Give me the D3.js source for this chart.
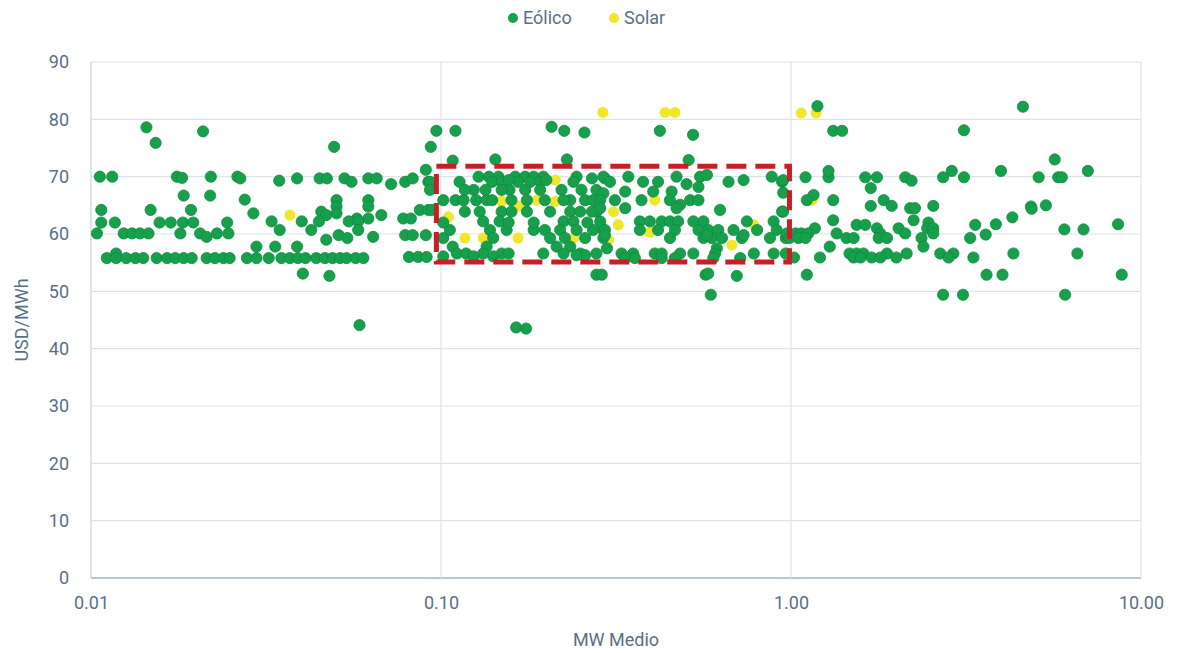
<!DOCTYPE html>
<html>
<head>
<meta charset="utf-8">
<title>Eólico / Solar</title>
<style>
  body { margin: 0; background: #fff; }
  text { font-family: "Liberation Sans Narrow", "Roboto", "DejaVu Sans Condensed", sans-serif; fill: #587087; }
</style>
</head>
<body>
<svg id="chart" width="1179" height="653"></svg>
<script src="https://cdn.jsdelivr.net/npm/d3@7"></script>
<script>
// [MW medio, USD/MWh]
var eolico = [
  [0.0144,78.6],[0.0153,75.9],[0.0209,77.9],
  [0.0106,70.0],[0.0115,70.0],[0.0176,70.0],[0.0182,69.8],[0.022,70.0],[0.0262,70.0],
  [0.0184,66.7],[0.0219,66.7],[0.0275,66.0],
  [0.0107,64.2],[0.0148,64.2],[0.0193,64.2],[0.0291,63.6],
  [0.0107,62.0],[0.0117,62.0],[0.0157,62.0],[0.0169,62.0],[0.0183,62.0],[0.0196,62.0],[0.0245,62.0],
  [0.0104,60.1],[0.0124,60.1],[0.0131,60.1],[0.0138,60.1],[0.0146,60.1],[0.018,60.1],[0.0205,60.1],[0.0214,59.5],[0.0229,60.1],[0.0247,60.1],
  [0.0297,57.8],
  [0.0111,55.8],[0.0118,56.6],[0.0118,55.8],[0.0126,55.8],[0.0134,55.8],[0.0141,55.8],[0.0154,55.8],[0.0165,55.8],[0.0174,55.8],[0.0184,55.8],
  [0.0194,55.8],[0.0214,55.8],[0.0226,55.8],[0.0239,55.8],[0.0249,55.8],[0.0279,55.8],[0.0297,55.8],
  [0.0495,75.2],[0.097,78.0],[0.0935,75.2],
  [0.0267,69.7],[0.0345,69.3],[0.0388,69.7],[0.045,69.7],[0.0472,69.7],[0.053,69.7],[0.0555,69.1],[0.062,69.7],[0.0655,69.7],
  [0.072,68.7],[0.079,69.1],[0.083,69.7],[0.0905,71.2],[0.092,69.1],
  [0.0503,65.9],[0.062,65.9],[0.0503,64.8],[0.062,64.8],[0.0455,63.9],[0.0503,63.6],
  [0.0675,63.3],[0.047,63.3],
  [0.0575,62.7],[0.062,62.7],[0.078,62.7],[0.082,62.7],[0.087,64.2],[0.092,64.2],
  [0.0328,62.2],[0.040,62.2],[0.0448,62.2],[0.0545,62.2],[0.058,62.2],
  [0.0346,60.7],[0.0426,60.7],[0.058,60.7],
  [0.051,59.8],[0.064,59.5],[0.079,59.8],[0.083,59.8],[0.0905,59.8],
  [0.054,59.3],[0.047,59.0],
  [0.0336,57.8],[0.0388,57.8],
  [0.0322,55.8],[0.035,55.8],[0.037,55.8],[0.039,55.8],[0.041,55.8],[0.044,55.8],[0.0466,55.8],[0.049,55.8],[0.0515,55.8],
  [0.0537,55.8],[0.057,55.8],[0.060,55.8],
  [0.0403,53.1],[0.048,52.7],[0.0585,44.1],
  [0.081,56.0],[0.086,56.0],[0.091,56.0],
  [0.110,78.0],[0.207,78.7],[0.225,78.0],[0.257,77.7],
  [0.108,72.8],[0.143,73.0],[0.229,73.0],
  [0.270,69.7],[0.294,69.7],[0.093,69.1],[0.094,64.2],
  [0.278,52.9],[0.288,52.9],[0.164,43.7],[0.175,43.5],
  [0.128,70],[0.137,70],[0.146,70],[0.163,70],[0.174,70],[0.184,70],[0.196,70],[0.244,70],[0.291,70],
  [0.113,69.1],[0.140,69.1],[0.149,69.1],[0.166,69.1],[0.180,69.1],[0.192,69.1],[0.239,69.1],
  [0.124,67.7],[0.134,67.7],[0.157,67.7],[0.174,67.7],[0.221,67.7],[0.252,67.7],[0.278,67.7],[0.093,67.7],
  [0.1015,65.9],[0.110,65.9],[0.116,65.9],[0.126,65.9],[0.135,65.9],[0.159,65.9],[0.176,65.9],[0.198,65.9],[0.234,65.9],[0.258,65.9],[0.291,67.1],
  [0.117,63.9],[0.129,63.9],[0.149,63.9],[0.159,63.9],[0.234,63.9],[0.250,63.9],[0.278,63.9],
  [0.132,62.2],[0.147,62.2],[0.224,62.2],[0.239,62.2],
  [0.106,60.7],[0.138,60.7],[0.154,60.7],[0.184,60.7],[0.198,60.7],[0.219,60.7],[0.244,60.7],[0.272,60.7],[0.291,60.7],
  [0.1015,59.3],[0.141,59.3],[0.205,59.3],[0.226,59.3],[0.258,59.3],[0.291,59.3],
  [0.108,57.8],[0.135,57.8],[0.214,57.8],[0.234,57.8],
  [0.111,56.6],[0.118,56.6],[0.132,56.6],[0.149,56.6],[0.156,56.6],[0.196,56.6],[0.224,56.6],[0.250,56.6],[0.278,56.6],
  [0.1015,56.1],[0.124,56.1],[0.141,56.1],
  [0.1015,62.0],[0.156,62.0],[0.184,62.0],[0.262,62.0],
  [0.176,63.9],[0.205,63.9],[0.270,63.9],
  [0.140,65.9],[0.224,65.9],[0.272,65.9],
  [0.117,67.7],[0.192,67.7],[0.149,67.7],
  [0.200,69.4],[0.156,69.4],
  [0.258,56.3],[0.244,56.3],
  [0.51,72.9],
  [0.343,70],[0.471,70],[0.550,70],[0.575,70.3],[0.881,70],[0.943,69.1],
  [0.304,69.1],[0.378,69.1],[0.417,69.1],[0.503,68.7],[0.663,69.1],[0.732,69.4],
  [0.336,67.4],[0.404,67.4],[0.456,67.4],[0.544,68.2],
  [0.285,65.9],[0.314,65.9],[0.374,65.9],[0.451,65.9],[0.482,65.1],[0.515,65.9],[0.544,65.9],[0.943,63.9],
  [0.285,64.5],[0.336,64.5],[0.471,64.5],[0.627,64.2],
  [0.285,62.2],[0.370,62.2],[0.395,62.2],[0.427,62.2],[0.451,62.2],[0.476,62.2],[0.526,62.2],[0.562,62.2],[0.748,62.2],[0.892,62.2],
  [0.294,60.7],[0.370,60.7],[0.417,60.7],[0.466,60.7],[0.544,60.7],[0.581,60.7],[0.620,60.7],[0.685,60.7],[0.800,60.7],[0.910,60.7],
  [0.451,59.3],[0.562,59.3],[0.594,59.3],[0.635,59.3],[0.724,59.3],[0.871,59.3],[0.966,59.3],
  [0.298,57.5],[0.614,57.5],
  [0.328,56.6],[0.354,56.6],[0.408,56.6],[0.427,56.6],[0.482,56.6],[0.526,56.6],[0.607,56.6],[0.783,56.6],[0.892,56.6],[0.966,56.6],
  [0.336,55.8],[0.358,55.8],[0.427,55.8],[0.466,55.8],[0.600,55.8],[0.716,55.8],
  [0.575,59.8],[0.732,59.8],[0.973,59.8],[0.294,59.8],
  [0.422,78.0],[0.525,77.3],[0.57,52.9],[0.58,53.1],[0.70,52.7],[0.59,49.4],
  [1.19,82.3],[1.32,78.0],[1.40,78.0],[3.12,78.1],
  [1.10,69.9],[1.28,69.9],[1.63,69.9],[1.76,69.9],[2.12,69.9],[2.72,69.9],[3.12,69.9],
  [1.28,71.0],[2.21,69.3],[2.88,71.0],[0.95,69.4],
  [1.69,68.0],[1.16,66.8],[1.11,65.9],[1.32,65.9],[1.84,65.9],
  [1.69,64.9],[1.94,64.9],[2.55,64.9],[2.19,64.5],[2.26,64.5],
  [0.95,67.2],[0.95,63.9],
  [1.32,62.4],[2.24,62.4],[2.47,62.0],
  [1.54,61.6],[1.63,61.6],[3.36,61.6],
  [1.17,61.0],[2.03,61.0],[1.76,61.0],[2.45,61.0],[2.55,61.0],
  [0.973,60.1],[1.03,60.1],[1.07,60.1],[1.12,60.1],[1.35,60.1],[1.80,60.1],[2.12,60.1],[2.55,60.1],
  [0.99,59.3],[1.05,59.3],[1.10,59.3],[1.44,59.3],[1.51,59.3],[1.78,59.3],[1.88,59.3],[2.36,59.3],[3.25,59.3],
  [1.29,57.8],[2.39,57.8],
  [1.47,56.6],[1.54,56.6],[1.61,56.6],[1.88,56.6],[2.14,56.6],[2.67,56.6],[2.91,56.6],
  [1.02,55.9],[1.21,55.9],[1.51,55.9],[1.58,55.9],[1.70,55.9],[1.80,55.9],[2.0,55.9],[2.82,55.9],[3.32,55.9],
  [1.11,52.9],[2.72,49.4],[3.10,49.4],
  [4.6,82.2],[5.67,73.0],[3.98,71.0],[7.05,71.0],[5.1,69.9],[5.8,69.9],[5.94,69.9],
  [4.85,64.8],[5.35,65.0],[4.87,64.4],[4.29,62.9],[3.85,61.7],[8.6,61.7],[6.04,60.8],[6.85,60.8],
  [3.6,59.9],[4.32,56.6],[6.58,56.6],[3.62,52.9],[4.02,52.9],[8.81,52.9],[6.07,49.4]
];

var solar = [
  [0.037,63.3],[0.29,81.2],[0.437,81.2],[0.466,81.2],[1.07,81.1],[1.18,81.1],[1.15,65.9],
  [0.212,69.4],[0.149,65.7],[0.188,65.9],[0.212,65.7],[0.168,64.9],[0.105,63.0],
  [0.117,59.3],[0.132,59.3],[0.166,59.3],[0.239,59.3],
  [0.408,65.9],[0.311,63.9],[0.321,61.6],[0.301,59.0],[0.395,60.3],[0.783,61.6],[0.678,58.1]
];

var xTicks = [0.01, 0.1, 1, 10];
var yTicks = [0, 10, 20, 30, 40, 50, 60, 70, 80, 90];
var seriesNames = ["Eólico", "Solar"];
var seriesColors = ["#17a04c", "#f0e62a"];
// highlighted zone (dashed box): MW range, USD range
var zoneMW = [0.097, 0.99];
var zoneUSD = [55.1, 71.8];

var svg = d3.select("#chart");
var x = d3.scaleLog().domain([0.01, 10]).range([91, 1141]);
var y = d3.scaleLinear().domain([0, 90]).range([578, 62]);

// grid
svg.append("g")
  .selectAll("line")
  .data(yTicks)
  .enter().append("line")
  .attr("x1", x(0.01)).attr("x2", x(10))
  .attr("y1", function(d) { return y(d); })
  .attr("y2", function(d) { return y(d); })
  .attr("stroke", function(d) { return d === 0 ? "#b9c6d2" : "#dde3ea"; })
  .attr("stroke-width", function(d) { return d === 0 ? 2 : 1.2; });

svg.append("g")
  .selectAll("line")
  .data(xTicks)
  .enter().append("line")
  .attr("x1", function(d) { return x(d); })
  .attr("x2", function(d) { return x(d); })
  .attr("y1", y(90)).attr("y2", y(0))
  .attr("stroke", function(d) { return d === 0.01 ? "#c6d3df" : "#dde3ea"; })
  .attr("stroke-width", 1.2);

// axes (labels only)
var xAxis = d3.axisBottom(x).tickValues(xTicks).tickFormat(d3.format(".2f")).tickSize(0).tickPadding(18);
svg.append("g")
  .attr("transform", "translate(0," + y(0) + ")")
  .call(xAxis)
  .call(function(g) { g.select(".domain").remove(); })
  .selectAll("text")
  .style("font-size", "18px");

var yAxis = d3.axisLeft(y).tickValues(yTicks).tickSize(0).tickPadding(22);
svg.append("g")
  .attr("transform", "translate(" + x(0.01) + ",0)")
  .call(yAxis)
  .call(function(g) { g.select(".domain").remove(); })
  .selectAll("text")
  .style("font-size", "18px");

svg.selectAll(".tick text").attr("fill", "#587087").style("font-family", "'Liberation Sans Narrow', Roboto, sans-serif");

// axis titles
svg.append("text")
  .attr("x", (x(0.01) + x(10)) / 2)
  .attr("y", 646)
  .attr("text-anchor", "middle")
  .style("font-size", "18px")
  .text("MW Medio");

svg.append("text")
  .attr("transform", "translate(28," + ((y(0) + y(90)) / 2) + ") rotate(-90)")
  .attr("text-anchor", "middle")
  .style("font-size", "18px")
  .text("USD/MWh");

// points: solar behind, eólico on top
svg.append("g")
  .selectAll("circle")
  .data(solar)
  .enter().append("circle")
  .attr("cx", function(d) { return x(d[0]); })
  .attr("cy", function(d) { return y(d[1]); })
  .attr("r", 5.5)
  .attr("fill", seriesColors[1]);

svg.append("g")
  .selectAll("circle")
  .data(eolico)
  .enter().append("circle")
  .attr("cx", function(d) { return x(d[0]); })
  .attr("cy", function(d) { return y(d[1]); })
  .attr("r", 5.6)
  .attr("fill", seriesColors[0])
  .attr("stroke", "#0e8a40")
  .attr("stroke-width", 0.8);

// dashed highlight box
svg.append("rect")
  .attr("x", x(zoneMW[0]))
  .attr("y", y(zoneUSD[1]))
  .attr("width", x(zoneMW[1]) - x(zoneMW[0]))
  .attr("height", y(zoneUSD[0]) - y(zoneUSD[1]))
  .attr("fill", "none")
  .attr("stroke", "#c42026")
  .attr("stroke-width", 5)
  .attr("stroke-dasharray", "20,9");

// legend
var legend = svg.append("g").attr("transform", "translate(513,18)");
var legX = [0, 101];
seriesNames.forEach(function(name, i) {
  var g = legend.append("g").attr("transform", "translate(" + legX[i] + ",0)");
  g.append("circle").attr("r", 5).attr("fill", seriesColors[i]);
  g.append("text").attr("x", 10).attr("y", 6).style("font-size", "18px").text(name);
});
</script>
</body>
</html>
